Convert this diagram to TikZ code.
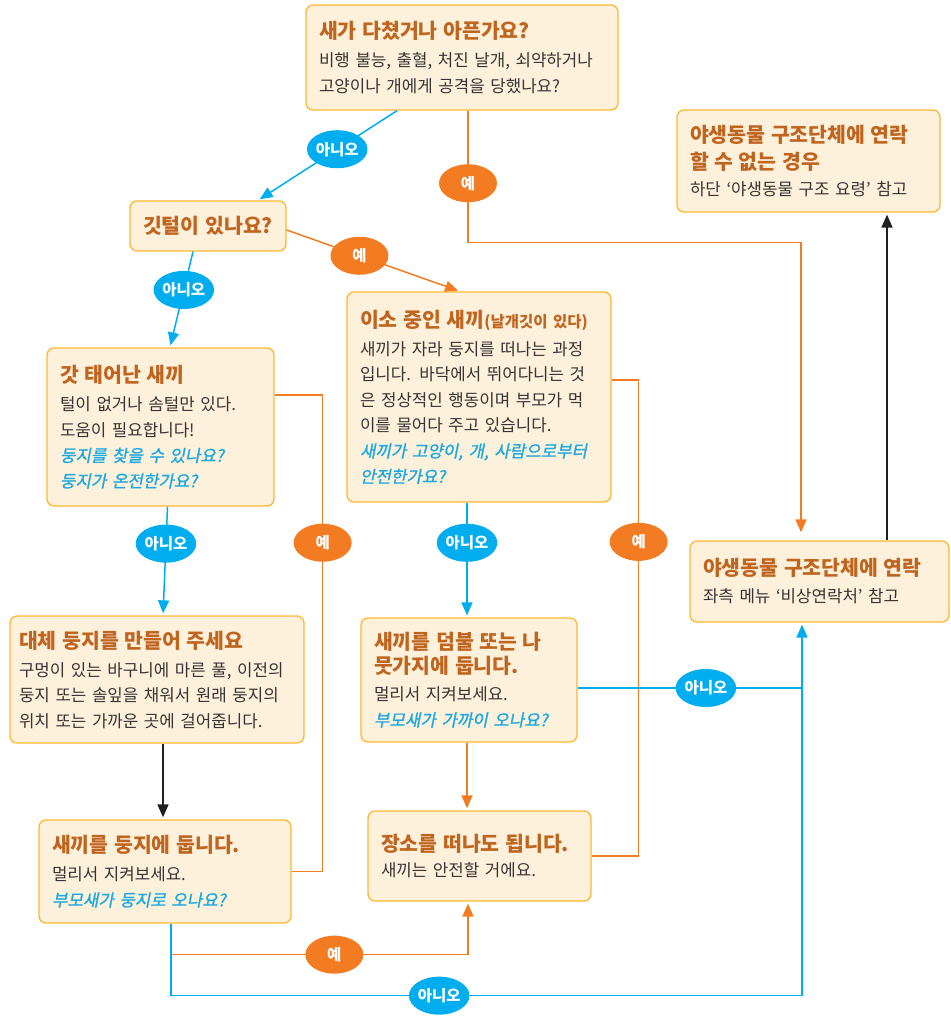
\documentclass[tikz,border=0pt]{standalone}
\usepackage{fontspec}
\setmainfont{Noto Sans CJK KR}
\newfontfamily\askfont[FakeSlant=0.2, FakeBold=1.2]{Noto Sans CJK KR}
\usetikzlibrary{arrows.meta, shapes.geometric}
\definecolor{boxfill}{HTML}{FEF1DC}
\definecolor{boxline}{HTML}{FBB931}
\definecolor{titlecol}{HTML}{C0651F}
\definecolor{bodycol}{HTML}{353535}
\definecolor{askcol}{HTML}{1CA8E0}
\definecolor{nocol}{HTML}{00AEEF}
\definecolor{yescol}{HTML}{F37B21}
\definecolor{linkcol}{HTML}{231F20}
\newcommand\ttl{\fontsize{20.5}{25.5}\selectfont\bfseries\color{titlecol}}
\newcommand\ask{\askfont\color{askcol}}

\begin{document}
\begin{tikzpicture}[x=1pt, y=-1pt,
	box/.style={draw=boxline, fill=boxfill, line width=1.3pt, rounded corners=7pt, align=left, inner xsep=13pt, inner ysep=0pt, text=bodycol, font=\fontsize{16.8}{25.5}\selectfont},
	yeslabel/.style={ellipse, fill=yescol, text=white, minimum width=58pt, minimum height=38pt, inner sep=0pt, font=\fontsize{15.5}{15.5}\selectfont\bfseries},
	nolabel/.style={yeslabel, fill=nocol},
	yesline/.style={draw=yescol, line width=1.5pt},
	noline/.style={draw=nocol, line width=1.5pt},
	linkline/.style={draw=linkcol, line width=1.5pt},
	headed/.style={-{Triangle[length=13pt, width=11pt]}, shorten >=2pt}]
	\useasboundingbox (0, 0) rectangle (950, 1016);
	% Boxes:
	\node[box, text width=286, minimum height=105] (injured) at (462, 57.5){{\ttl 새가 다쳤거나 아픈가요?}\\[2.5pt]비행 불능, 출혈, 처진 날개, 쇠약하거나\\고양이나 개에게 공격을 당했나요?};
	\node[box, inner xsep=6pt, text width=144, align=center, minimum height=50] (feather) at (208, 226){{\ttl 깃털이 있나요?}};
	\node[box, text width=201, minimum height=158] (hatchling) at (160.5, 427){{\ttl 갓 태어난 새끼}\\[2.5pt]털이 없거나 솜털만 있다.\\도움이 필요합니다!\\{\ask 둥지를 찾을 수 있나요?}\\{\ask 둥지가 온전한가요?}};
	\node[box, text width=238, minimum height=210] (fledgling) at (479, 397){{\ttl 이소 중인 새끼{\fontsize{15.5}{25.5}\selectfont(날개깃이 있다)}}\\[2.5pt]새끼가 자라 둥지를 떠나는 과정\\입니다. 바닥에서 뛰어다니는 것\\은 정상적인 행동이며 부모가 먹\\이를 물어다 주고 있습니다.\\{\ask 새끼가 고양이, 개, 사람으로부터}\\{\ask 안전한가요?}};
	\node[box, inner xsep=9pt, text width=276, minimum height=127] (newnest) at (157, 679.5){{\ttl 대체 둥지를 만들어 주세요}\\[2.5pt]구멍이 있는 바구니에 마른 풀, 이전의\\둥지 또는 솔잎을 채워서 원래 둥지의\\위치 또는 가까운 곳에 걸어줍니다.};
	\node[box, text width=226, minimum height=103] (putnest) at (165, 871.5){{\ttl 새끼를 둥지에 둡니다.}\\[2.5pt]멀리서 지켜보세요.\\{\ask 부모새가 둥지로 오나요?}};
	\node[box, text width=190, minimum height=124] (bush) at (469, 680){{\ttl 새끼를 덤불 또는 나}\\[-1.5pt]{\ttl 뭇가지에 둡니다.}\\[1.5pt]멀리서 지켜보세요.\\{\ask 부모새가 가까이 오나요?}};
	\node[box, text width=197, minimum height=90] (leave) at (479.5, 856){{\ttl 장소를 떠나도 됩니다.}\\새끼는 안전할 거에요.};
	\node[box, text width=233, minimum height=81] (rescue) at (819.5, 581.5){{\ttl 야생동물 구조단체에 연락}\\[1.5pt]좌측 메뉴 ‘비상연락처’ 참고};
	\node[box, text width=237, minimum height=102] (norescue) at (808.5, 161){{\ttl 야생동물 구조단체에 연락}\\[1.5pt]{\ttl 할 수 없는 경우}\\하단 ‘야생동물 구조 요령’ 참고};
	% Paths, labels and arrows:
	\draw[noline, headed] ([xshift=-65]injured.south) -- node[nolabel, pos=0.43] (no1){아니오} ([xshift=50]feather.north);
	\draw[yesline, headed, shorten >=8pt] ([xshift=6]injured.south) -- node[yeslabel, pos=0.55] (yes1){예} ++(0, 132) -| ([xshift=-18.5]rescue.north);
	\draw[noline, headed] ([xshift=-15]feather.south) -- node[nolabel, pos=0.4] (no2){아니오} ([xshift=9.5]hatchling.north);
	\draw[yesline, headed] ([yshift=-4]feather.east) -- node[yeslabel, pos=0.42] (yes2){예} ([xshift=-19]fledgling.north);
	\draw[noline, headed] ([xshift=7]hatchling.south) -- node[nolabel, pos=0.34] (no3){아니오} ([xshift=6]newnest.north);
	\draw[yesline] ([yshift=32]hatchling.east) -- ++(48, 0) coordinate (hbend) -- node[yeslabel, pos=0.31] (yes3){예} (hbend |- putnest.east) -- (putnest.east);
	\draw[linkline, headed] ([xshift=6]newnest.south) -- ([xshift=-2]putnest.north);
	\draw[noline, headed] ([xshift=-12]fledgling.south) -- node[nolabel, pos=0.35] (no4){아니오} ([xshift=-2]bush.north);
	\draw[yesline] ([yshift=17]fledgling.east) -- ++(27, 0) coordinate (fbend) -- node[yeslabel, pos=0.34] (yes4){예} (fbend |- leave.east) -- (leave.east);
	\draw[yesline, headed] ([xshift=-2]bush.south) -- ([xshift=-12.5]leave.north);
	\draw[noline] ([yshift=-8]bush.east) -- node[nolabel, pos=0.57] (no5){아니오} ++(225, 0);
	\draw[yesline, headed] ([xshift=6, yshift=-31]putnest.south) -| node[yeslabel, pos=0.275] (yes5){예} ([xshift=-11.5]leave.south);
	\draw[noline, headed] ([xshift=6]putnest.south) -- ++(0, 72) -- node[nolabel, pos=0.425] (no6){아니오} ++(631, 0) -- ([xshift=-17.5]rescue.south);
	\draw[linkline, headed] ([xshift=67.5]rescue.north) -- ([xshift=78.5]norescue.south);
\end{tikzpicture}
\end{document}
